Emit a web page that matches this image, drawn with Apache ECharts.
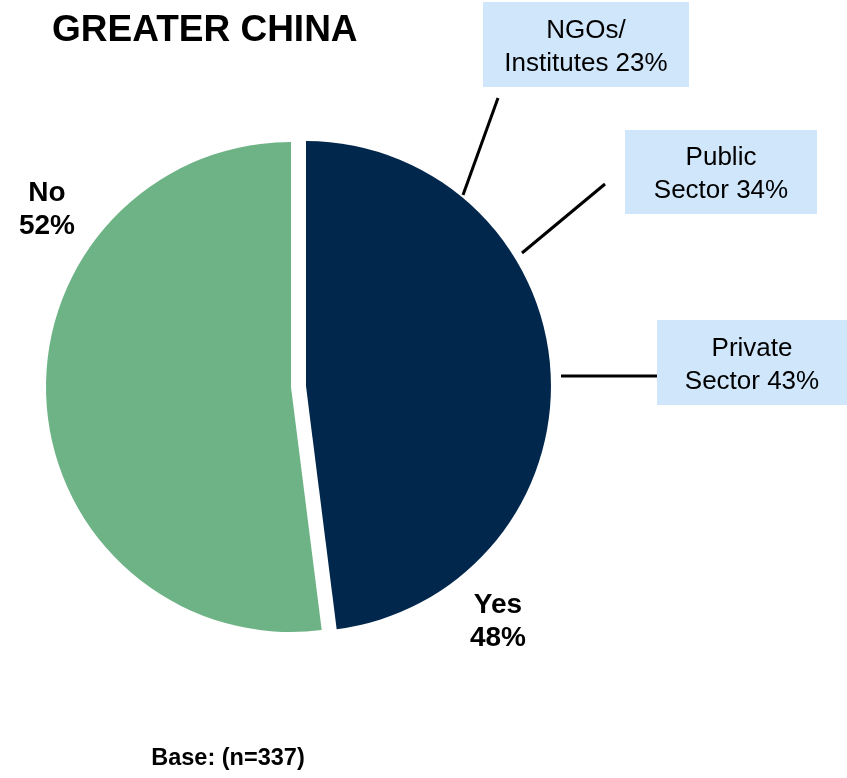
<!DOCTYPE html>
<html>
<head>
<meta charset="utf-8">
<title>Greater China</title>
<script src="https://cdn.jsdelivr.net/npm/echarts@6/dist/echarts.min.js"></script>
<style>
  html, body { margin: 0; padding: 0; background: #ffffff; }
  #chart { width: 847px; height: 778px; }
</style>
</head>
<body>
<div id="chart"></div>
<script>
// Main split: does the organisation collaborate (Yes / No)
const categories = ['Yes', 'No'];
const shares = [48, 52];
const sliceColors = ['#02274c', '#6db386'];

// Breakdown of the "Yes" share by partner type
const partnerTypes = ['NGOs/\nInstitutes', 'Public\nSector', 'Private\nSector'];
const partnerShares = [23, 34, 43];

const titleText = 'GREATER CHINA';
const baseText = 'Base: (n=337)';

const FONT = '"Liberation Sans", Arial, Helvetica, sans-serif';

// Callout boxes for the partner breakdown: box centre/size and leader line
const callouts = [
  { cx: 586, cy: 44.5, w: 206, h: 85, line: [463, 195, 498, 98] },
  { cx: 721, cy: 172, w: 192, h: 84, line: [522, 253, 605, 184] },
  { cx: 752, cy: 362.5, w: 190, h: 85, line: [561, 376, 657, 376] }
];

// Where the Yes / No labels sit
const labelSpots = [
  { x: 498, y: 622 },
  { x: 47, y: 210 }
];

const chart = echarts.init(document.getElementById('chart'), null, { renderer: 'canvas' });

const graphics = [];
callouts.forEach(function (c, i) {
  graphics.push({
    type: 'line',
    shape: { x1: c.line[0], y1: c.line[1], x2: c.line[2], y2: c.line[3] },
    style: { stroke: '#000000', lineWidth: 3 },
    silent: true
  });
  graphics.push({
    type: 'rect',
    shape: { x: c.cx - c.w / 2, y: c.cy - c.h / 2, width: c.w, height: c.h },
    style: { fill: '#cfe6fb' },
    silent: true
  });
  graphics.push({
    type: 'text',
    x: c.cx,
    y: c.cy + 2.5,
    style: {
      text: partnerTypes[i] + ' ' + partnerShares[i] + '%',
      font: '26px ' + FONT,
      fill: '#000000',
      align: 'center',
      verticalAlign: 'middle',
      lineHeight: 33
    },
    silent: true
  });
});

// Yes / No value labels, written from the same arrays as the slices
categories.forEach(function (name, i) {
  graphics.push({
    type: 'text',
    x: labelSpots[i].x,
    y: labelSpots[i].y,
    style: {
      text: name + '\n' + shares[i] + '%',
      font: 'bold 28px ' + FONT,
      fill: '#000000',
      align: 'center',
      verticalAlign: 'middle',
      lineHeight: 33
    },
    silent: true
  });
});

graphics.push({
  type: 'text',
  x: 52,
  y: 31,
  style: {
    text: titleText,
    font: 'bold 37px ' + FONT,
    fill: '#000000',
    align: 'left',
    verticalAlign: 'middle'
  },
  silent: true
});

graphics.push({
  type: 'text',
  x: 228,
  y: 759,
  style: {
    text: baseText,
    font: 'bold 23.5px ' + FONT,
    fill: '#000000',
    align: 'center',
    verticalAlign: 'middle'
  },
  silent: true
});

const option = {
  animation: false,
  backgroundColor: '#ffffff',
  graphic: graphics,
  series: [{
    type: 'pie',
    center: [291, 387],
    radius: [0, 245],
    startAngle: 90,
    clockwise: true,
    selectedMode: 'single',
    selectedOffset: 15,
    silent: true,
    emphasis: { disabled: true },
    label: { show: false },
    labelLine: { show: false },
    data: categories.map(function (name, i) {
      return {
        name: name,
        value: shares[i],
        selected: i === 0,
        itemStyle: { color: sliceColors[i], borderWidth: 0 },
        select: { itemStyle: { color: sliceColors[i], borderWidth: 0 } }
      };
    })
  }]
};

chart.setOption(option);
</script>
</body>
</html>
